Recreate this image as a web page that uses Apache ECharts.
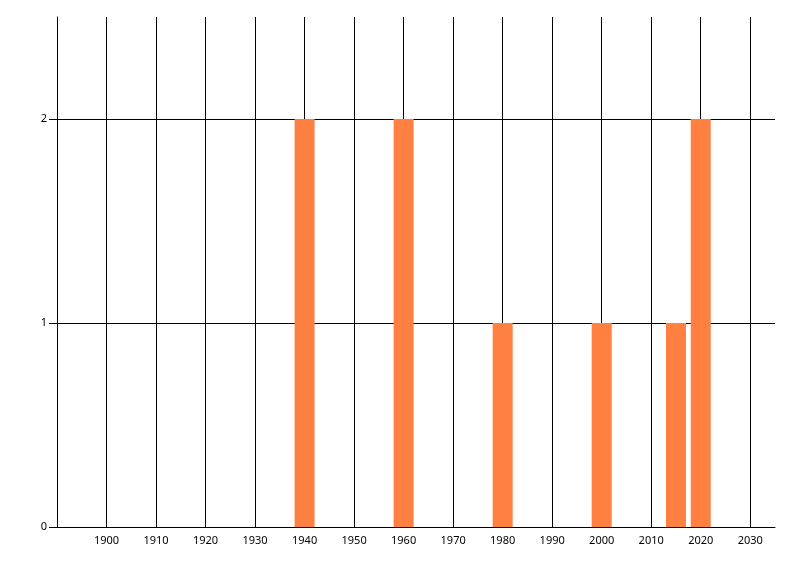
<!DOCTYPE html>
<html>
<head>
<meta charset="utf-8">
<script src="https://cdn.jsdelivr.net/npm/echarts@6/dist/echarts.min.js"></script>
<style>html,body{margin:0;padding:0;background:#fff}#c{width:800px;height:576px}</style>
</head>
<body>
<div id="c"></div>
<script>
const years = [1940, 1960, 1980, 2000, 2015, 2020];
const counts = [2, 2, 1, 1, 1, 2];
const xTicks = [1900, 1910, 1920, 1930, 1940, 1950, 1960, 1970, 1980, 1990, 2000, 2010, 2020, 2030];
const yTicks = [0, 1, 2];

const chart = echarts.init(document.getElementById('c'));
chart.setOption({
  animation: false,
  grid: { left: 57, right: 25, top: 17, bottom: 49 },
  xAxis: {
    type: 'value', min: 1890, max: 2035,
    axisLine: { show: true, lineStyle: { color: '#000', width: 1 } },
    axisTick: { show: false, customValues: xTicks },
    axisLabel: { customValues: xTicks, formatter: v => String(v), color: '#000', fontSize: 11, fontFamily: 'Noto Sans', margin: 8 },
    splitLine: { show: true, lineStyle: { color: '#000', width: 1 } }
  },
  yAxis: {
    type: 'value', min: 0, max: 2.5,
    axisLine: { show: true, lineStyle: { color: '#000', width: 1 } },
    axisTick: { show: true, length: 8, customValues: yTicks, lineStyle: { color: '#000' } },
    axisLabel: { customValues: yTicks, formatter: v => String(v), color: '#000', fontSize: 11, fontFamily: 'Noto Sans', margin: 10 },
    splitLine: { show: true, lineStyle: { color: '#000', width: 1 } }
  },
  series: [{
    type: 'bar',
    barWidth: 20,
    itemStyle: { color: '#FF8040' },
    data: years.map((y, i) => [y, counts[i]])
  }]
});
</script>
</body>
</html>
